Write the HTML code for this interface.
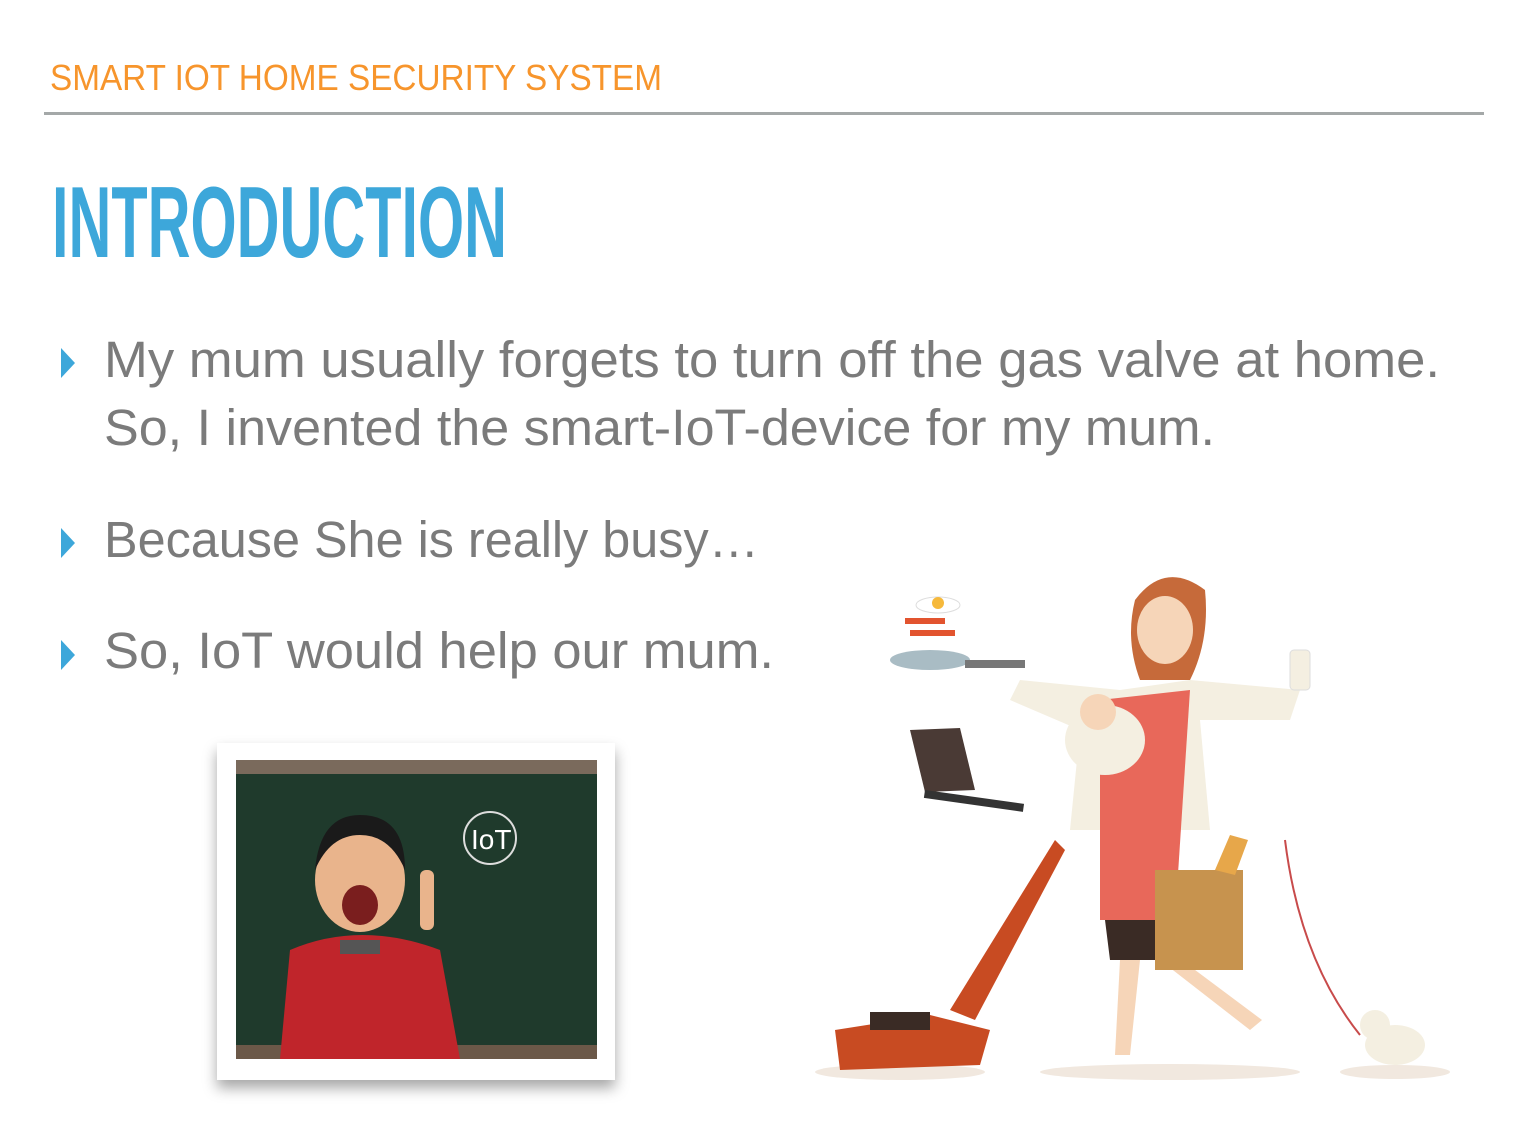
<!DOCTYPE html>
<html><head><meta charset="utf-8"><style>
html,body{margin:0;padding:0;background:#fff;width:1526px;height:1138px;overflow:hidden}
svg{display:block}
</style></head><body>
<svg width="1526" height="1138" viewBox="0 0 1526 1138" xmlns="http://www.w3.org/2000/svg" font-family="Liberation Sans, sans-serif">
<defs>
<filter id="sh" x="-10%" y="-10%" width="120%" height="130%"><feDropShadow dx="0" dy="8" stdDeviation="7" flood-color="#000" flood-opacity="0.35"/></filter>
</defs>
<text x="50" y="90" font-size="36" fill="#F7952C" textLength="612" lengthAdjust="spacingAndGlyphs">SMART IOT HOME SECURITY SYSTEM</text>
<rect x="44" y="112" width="1440" height="3" fill="#A4A8A8"/>
<text x="52" y="257" font-size="101" font-weight="bold" fill="#3DA7DA" textLength="455" lengthAdjust="spacingAndGlyphs">INTRODUCTION</text>

<g fill="#7B7B7B" font-size="51">
<polygon points="61,348 75,363 61,378" fill="#3DA7DA"/>
<text x="104" y="377" textLength="1336" lengthAdjust="spacingAndGlyphs">My mum usually forgets to turn off the gas valve at home.</text>
<text x="104" y="445" textLength="1111" lengthAdjust="spacingAndGlyphs">So, I invented the smart-IoT-device for my mum.</text>
<polygon points="61,528 75,543 61,558" fill="#3DA7DA"/>
<text x="104" y="557" textLength="655" lengthAdjust="spacingAndGlyphs">Because She is really busy…</text>
<polygon points="61,640 75,655 61,670" fill="#3DA7DA"/>
<text x="104" y="668" textLength="670" lengthAdjust="spacingAndGlyphs">So, IoT would help our mum.</text>
</g>

<g>
<rect x="217" y="743" width="398" height="337" fill="#fff" filter="url(#sh)"/>
<rect x="236" y="760" width="361" height="299" fill="#1F3A2C"/>
<rect x="236" y="760" width="361" height="14" fill="#7A6A5C"/>
<rect x="236" y="1045" width="361" height="14" fill="#6B5848"/>
<circle cx="490" cy="838" r="26" fill="none" stroke="#ddd" stroke-width="2"/>
<text x="471" y="849" font-size="28" fill="#fff">IoT</text>
<path d="M280,1059 L290,950 Q360,920 440,950 L460,1059 Z" fill="#C0252B"/>
<ellipse cx="360" cy="880" rx="45" ry="52" fill="#E9B48C"/>
<path d="M315,870 Q320,815 360,815 Q405,815 405,870 Q390,835 360,835 Q330,835 315,870Z" fill="#1a1a1a"/>
<ellipse cx="360" cy="905" rx="18" ry="20" fill="#7A1E1E"/>
<rect x="340" y="940" width="40" height="14" fill="#555"/>
<rect x="420" y="870" width="14" height="60" rx="6" fill="#E9B48C"/>
</g>

<g>
<ellipse cx="900" cy="1072" rx="85" ry="8" fill="#F1E8DF"/>
<ellipse cx="1170" cy="1072" rx="130" ry="8" fill="#F1E8DF"/>
<ellipse cx="1395" cy="1072" rx="55" ry="7" fill="#F1E8DF"/>
<ellipse cx="938" cy="605" rx="22" ry="8" fill="#fff" stroke="#ddd"/>
<circle cx="938" cy="603" r="6" fill="#F6B93B"/>
<rect x="905" y="618" width="40" height="6" fill="#E2542F"/>
<rect x="910" y="630" width="45" height="6" fill="#E2542F"/>
<ellipse cx="930" cy="660" rx="40" ry="10" fill="#A9BCC4"/>
<rect x="965" y="660" width="60" height="8" fill="#777"/>
<path d="M910,730 L960,728 L975,790 L925,792Z" fill="#4A3A35"/>
<rect x="925" y="790" width="100" height="8" fill="#333" transform="rotate(8 925 790)"/>
<path d="M1135,600 Q1165,560 1205,590 Q1210,640 1190,680 L1140,680 Q1125,640 1135,600Z" fill="#C66A3A"/>
<ellipse cx="1165" cy="630" rx="28" ry="34" fill="#F6D5B8"/>
<path d="M1020,680 L1120,690 L1190,680 L1300,690 L1290,720 L1200,720 L1210,830 L1070,830 L1080,730 L1010,700Z" fill="#F4EFE1"/>
<path d="M1100,700 L1190,690 L1175,920 L1100,920Z" fill="#E8685A"/>
<ellipse cx="1105" cy="740" rx="40" ry="35" fill="#F4EFE1"/>
<circle cx="1098" cy="712" r="18" fill="#F6D5B8"/>
<path d="M1105,920 L1175,920 L1170,960 L1110,960Z" fill="#3A2B25"/>
<path d="M1120,960 L1115,1055 L1130,1055 L1140,960Z" fill="#F6D5B8"/>
<path d="M1160,960 L1250,1030 L1262,1020 L1175,955Z" fill="#F6D5B8"/>
<rect x="1155" y="870" width="88" height="100" fill="#C7934E"/>
<path d="M1215,870 L1230,835 L1248,840 L1235,875Z" fill="#E7A74A"/>
<rect x="1290" y="650" width="20" height="40" rx="4" fill="#F4EFE1" stroke="#ddd"/>
<path d="M1055,840 L950,1010 L975,1020 L1065,850Z" fill="#C84B22"/>
<path d="M835,1030 L930,1015 L990,1030 L980,1065 L840,1070Z" fill="#C84B22"/>
<rect x="870" y="1012" width="60" height="18" fill="#3A2B25"/>
<path d="M1285,840 Q1300,960 1360,1035" fill="none" stroke="#C84B4B" stroke-width="2"/>
<ellipse cx="1395" cy="1045" rx="30" ry="20" fill="#F4EFE1"/>
<circle cx="1375" cy="1025" r="15" fill="#F4EFE1"/>
</g>
</svg>
</body></html>
